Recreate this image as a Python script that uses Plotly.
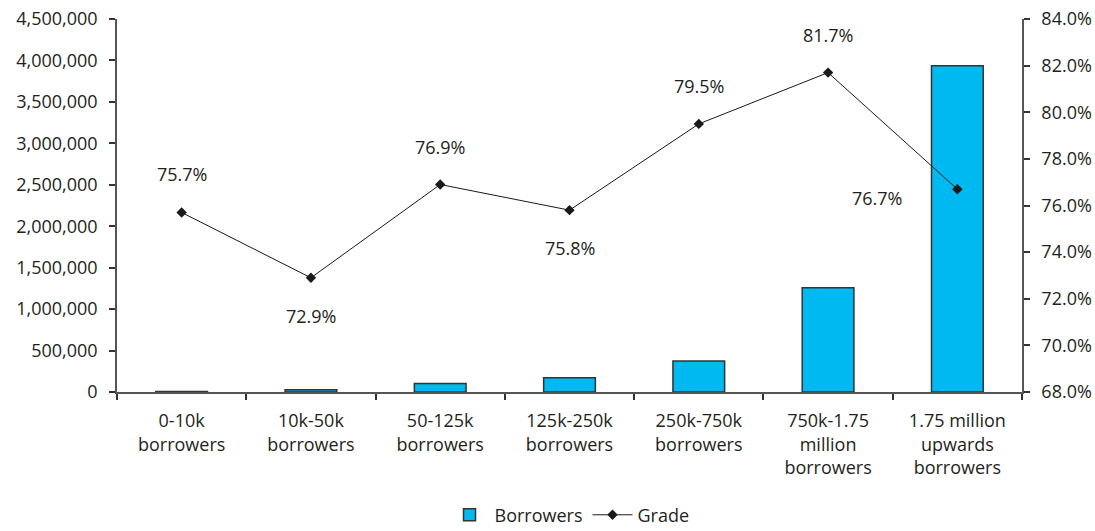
import plotly.graph_objects as go

categories = ["0-10k<br>borrowers", "10k-50k<br>borrowers", "50-125k<br>borrowers",
              "125k-250k<br>borrowers", "250k-750k<br>borrowers",
              "750k-1.75<br>million<br>borrowers", "1.75 million<br>upwards<br>borrowers"]
borrowers = [5000, 28000, 103000, 172000, 374000, 1258000, 3935000]
grade = [75.7, 72.9, 76.9, 75.8, 79.5, 81.7, 76.7]
label_pos = ["above", "below", "above", "below", "above", "above", "left"]

FONT = "Open Sans"
FS = 18
fig = go.Figure()
fig.add_trace(go.Bar(x=categories, y=borrowers, name="Borrowers",
                     marker=dict(color="#00B9F0", line=dict(color="#333333", width=1.5)),
                     yaxis="y"))
fig.add_trace(go.Scatter(x=categories, y=grade, name="Grade", mode="lines+markers",
                         line=dict(color="#1a1a1a", width=1),
                         marker=dict(symbol="diamond", size=8, color="#1a1a1a"),
                         yaxis="y2"))

for c, g, p in zip(categories, grade, label_pos):
    kw = dict(x=c, y=g, xref="x", yref="y2", text=f"{g:.1f}%", showarrow=False,
              font=dict(family=FONT, size=FS, color="#231f20"))
    if p == "above":
        kw["yshift"] = 38
    elif p == "below":
        kw["yshift"] = -38
    else:
        kw["xshift"] = -80
        kw["yshift"] = -9
    fig.add_annotation(**kw)

axis_common = dict(showline=True, linecolor="#555555", linewidth=1.5, ticks="outside",
                   ticklen=6, tickcolor="#333333", tickwidth=1.5, showgrid=False, zeroline=False,
                   automargin=False,
                   tickfont=dict(family=FONT, size=FS, color="#231f20"))
fig.update_layout(
    width=1095, height=531, paper_bgcolor="white", plot_bgcolor="white",
    margin=dict(l=117, r=73, t=19, b=139, autoexpand=False),
    bargap=0.6,
    xaxis=dict(**axis_common, tickson="boundaries", ticklabelstandoff=12),
    yaxis=dict(**axis_common, range=[0, 4500000], dtick=500000, tickformat=",", ticklabelstandoff=8),
    yaxis2=dict(**axis_common, overlaying="y", side="right", range=[68, 84], dtick=2,
                tickformat=".1f", ticksuffix="%", ticklabelstandoff=8),
    legend=dict(orientation="h", x=0.5, xanchor="center", y=-0.33, yanchor="middle",
                font=dict(family=FONT, size=FS, color="#231f20"), itemwidth=40),
    showlegend=True,
)
fig.write_html("out.html")
